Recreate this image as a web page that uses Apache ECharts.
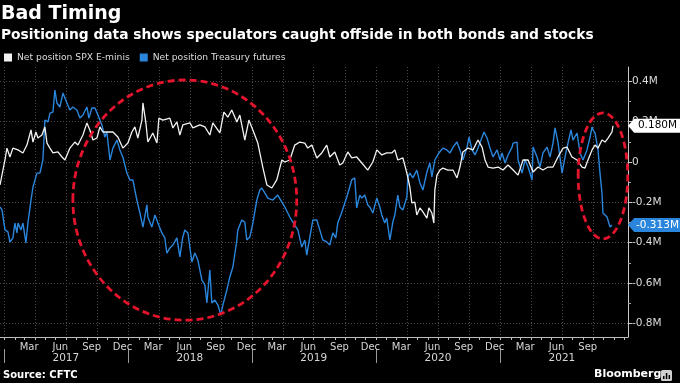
<!DOCTYPE html>
<html>
<head>
<meta charset="utf-8">
<script src="https://cdn.jsdelivr.net/npm/echarts@6/dist/echarts.min.js"></script>
<style>
html,body{margin:0;padding:0;background:#000;}
#chart{width:680px;height:383px;}
</style>
</head>
<body>
<div id="chart"></div>
<script>
// ---- data (dates as decimal years, values in millions of contracts) ----
const spxDates = [2016.965,2017.005,2017.021,2017.045,2017.069,2017.110,2017.150,2017.182,2017.215,2017.231,2017.255,2017.271,2017.303,2017.327,2017.344,2017.368,2017.392,2017.432,2017.465,2017.489,2017.529,2017.569,2017.594,2017.634,2017.666,2017.690,2017.715,2017.747,2017.771,2017.795,2017.835,2017.876,2017.916,2017.956,2017.997,2018.029,2018.053,2018.077,2018.110,2018.118,2018.142,2018.158,2018.198,2018.231,2018.247,2018.279,2018.335,2018.360,2018.392,2018.416,2018.440,2018.497,2018.521,2018.577,2018.618,2018.658,2018.682,2018.739,2018.771,2018.803,2018.835,2018.876,2018.900,2018.940,2018.973,2019.005,2019.045,2019.085,2019.118,2019.158,2019.198,2019.239,2019.263,2019.303,2019.343,2019.384,2019.424,2019.448,2019.481,2019.521,2019.561,2019.601,2019.626,2019.666,2019.706,2019.731,2019.771,2019.803,2019.843,2019.884,2019.932,2019.973,2020.005,2020.045,2020.085,2020.126,2020.150,2020.174,2020.215,2020.247,2020.271,2020.287,2020.311,2020.327,2020.352,2020.376,2020.408,2020.424,2020.448,2020.464,2020.472,2020.489,2020.513,2020.537,2020.577,2020.618,2020.650,2020.674,2020.698,2020.739,2020.779,2020.819,2020.852,2020.876,2020.900,2020.940,2020.981,2021.021,2021.061,2021.102,2021.142,2021.182,2021.223,2021.263,2021.303,2021.343,2021.384,2021.424,2021.464,2021.505,2021.537,2021.577,2021.618,2021.658,2021.682,2021.706,2021.739,2021.763,2021.787,2021.819,2021.844,2021.868,2021.900,2021.908];
const spxValues = [-0.114,0.010,0.069,0.025,0.069,0.060,0.045,0.084,0.159,0.099,0.149,0.119,0.134,0.174,0.094,0.069,0.045,0.050,0.025,0.010,0.069,0.099,0.084,0.134,0.194,0.159,0.109,0.119,0.174,0.149,0.149,0.149,0.124,0.069,0.094,0.149,0.174,0.119,0.208,0.293,0.194,0.099,0.144,0.094,0.218,0.208,0.218,0.169,0.199,0.134,0.184,0.194,0.169,0.184,0.174,0.134,0.194,0.144,0.248,0.223,0.258,0.199,0.233,0.109,0.208,0.159,0.094,-0.025,-0.114,-0.129,-0.089,0.010,0.000,0.010,0.084,0.099,0.094,0.069,0.084,0.020,0.045,0.084,0.025,0.050,-0.015,-0.005,0.050,0.020,0.025,-0.005,-0.040,0.000,0.060,0.035,0.045,0.045,0.060,0.010,0.020,-0.055,-0.124,-0.203,-0.199,-0.263,-0.228,-0.248,-0.278,-0.228,-0.253,-0.303,-0.139,-0.065,-0.040,-0.030,-0.040,-0.040,-0.079,-0.025,0.050,0.069,0.060,0.109,0.074,0.010,-0.025,-0.030,-0.025,-0.040,-0.015,-0.040,-0.065,0.010,0.010,-0.050,-0.025,-0.040,-0.025,-0.025,0.025,0.069,0.074,0.025,0.010,-0.025,-0.030,0.010,0.060,0.084,0.069,0.109,0.099,0.119,0.149,0.180];

const tsyDates = [2016.965,2016.981,2017.005,2017.029,2017.045,2017.069,2017.085,2017.102,2017.110,2017.134,2017.150,2017.174,2017.190,2017.215,2017.231,2017.263,2017.287,2017.311,2017.327,2017.352,2017.368,2017.392,2017.408,2017.424,2017.448,2017.473,2017.505,2017.529,2017.553,2017.585,2017.610,2017.634,2017.666,2017.682,2017.706,2017.731,2017.755,2017.787,2017.811,2017.827,2017.852,2017.876,2017.908,2017.932,2017.956,2017.989,2018.013,2018.037,2018.053,2018.069,2018.094,2018.118,2018.150,2018.158,2018.190,2018.215,2018.239,2018.271,2018.295,2018.311,2018.335,2018.360,2018.392,2018.416,2018.440,2018.456,2018.481,2018.513,2018.537,2018.561,2018.594,2018.618,2018.634,2018.658,2018.674,2018.698,2018.723,2018.747,2018.763,2018.795,2018.819,2018.844,2018.876,2018.884,2018.916,2018.940,2018.956,2018.981,2019.005,2019.037,2019.061,2019.077,2019.102,2019.126,2019.166,2019.206,2019.239,2019.263,2019.303,2019.327,2019.368,2019.400,2019.424,2019.440,2019.465,2019.489,2019.521,2019.545,2019.569,2019.602,2019.626,2019.650,2019.674,2019.690,2019.723,2019.763,2019.803,2019.827,2019.843,2019.868,2019.884,2019.908,2019.932,2019.948,2019.973,2020.005,2020.029,2020.045,2020.069,2020.085,2020.110,2020.134,2020.150,2020.174,2020.190,2020.215,2020.247,2020.255,2020.271,2020.295,2020.327,2020.352,2020.376,2020.408,2020.432,2020.448,2020.472,2020.505,2020.537,2020.569,2020.594,2020.618,2020.650,2020.674,2020.698,2020.731,2020.747,2020.771,2020.795,2020.819,2020.835,2020.868,2020.892,2020.916,2020.940,2020.973,2020.997,2021.013,2021.037,2021.061,2021.094,2021.102,2021.134,2021.142,2021.174,2021.198,2021.223,2021.255,2021.263,2021.295,2021.319,2021.343,2021.376,2021.400,2021.424,2021.440,2021.464,2021.497,2021.521,2021.545,2021.569,2021.585,2021.618,2021.642,2021.666,2021.698,2021.723,2021.739,2021.747,2021.763,2021.787,2021.803,2021.819,2021.827,2021.860,2021.884,2021.900];
const tsyValues = [-0.223,-0.238,-0.337,-0.347,-0.397,-0.377,-0.303,-0.352,-0.303,-0.337,-0.303,-0.402,-0.303,-0.189,-0.124,-0.055,-0.055,0.010,0.208,0.199,0.243,0.248,0.357,0.293,0.273,0.342,0.293,0.258,0.273,0.258,0.218,0.233,0.273,0.218,0.268,0.268,0.233,0.184,0.124,0.149,0.010,0.069,0.109,0.060,0.025,-0.055,-0.089,-0.089,-0.139,-0.189,-0.253,-0.323,-0.213,-0.273,-0.323,-0.263,-0.303,-0.352,-0.377,-0.452,-0.427,-0.412,-0.377,-0.471,-0.372,-0.337,-0.352,-0.496,-0.452,-0.486,-0.586,-0.610,-0.700,-0.536,-0.700,-0.685,-0.710,-0.759,-0.710,-0.635,-0.571,-0.521,-0.387,-0.337,-0.288,-0.298,-0.387,-0.372,-0.303,-0.189,-0.139,-0.129,-0.154,-0.179,-0.189,-0.164,-0.199,-0.223,-0.273,-0.298,-0.337,-0.422,-0.387,-0.462,-0.372,-0.288,-0.288,-0.337,-0.387,-0.397,-0.412,-0.352,-0.377,-0.303,-0.248,-0.174,-0.089,-0.079,-0.228,-0.164,-0.179,-0.164,-0.213,-0.223,-0.253,-0.179,-0.223,-0.263,-0.303,-0.278,-0.387,-0.298,-0.263,-0.164,-0.223,-0.238,-0.174,-0.074,-0.055,-0.079,-0.040,-0.104,-0.139,-0.050,-0.005,-0.074,0.010,0.045,0.069,0.060,0.045,0.074,0.099,0.060,0.010,0.074,0.124,0.060,0.035,0.069,0.074,0.149,0.119,0.069,0.025,0.060,0.010,0.045,-0.005,0.035,0.074,0.094,0.099,0.010,-0.055,0.010,-0.025,-0.089,0.074,0.025,-0.025,0.045,0.074,0.025,0.094,0.169,0.099,-0.055,0.025,0.094,0.159,0.109,0.144,0.045,0.010,0.060,0.124,0.174,0.159,0.144,0.060,-0.055,-0.154,-0.253,-0.273,-0.323,-0.313];

const seriesNames = ['Net position SPX E-minis', 'Net position Treasury futures'];
const monthNames = ['Jan','Feb','Mar','Apr','May','Jun','Jul','Aug','Sep','Oct','Nov','Dec'];
const labelMonths = [2, 5, 8, 11];          // Mar, Jun, Sep, Dec
const quarterMonths = [0, 3, 6, 9];          // grid lines
const years = [2017, 2018, 2019, 2020, 2021];
const yTicks = [-0.8, -0.6, -0.4, -0.2, 0, 0.2, 0.4];
const yMinorTicks = [-0.7, -0.5, -0.3, -0.1, 0.1, 0.3];
const axisRange = { xMin: 2016.965, xMax: 2022.029, yMin: -0.8685, yMax: 0.4715 };

// ---- helpers ----
function yearToTs(y) {
  const yr = Math.floor(y);
  const s = Date.UTC(yr, 0, 1), e = Date.UTC(yr + 1, 0, 1);
  return s + (y - yr) * (e - s);
}
const zip = (d, v) => d.map((x, i) => [yearToTs(x), v[i]]);
const spxData = zip(spxDates, spxValues);
const tsyData = zip(tsyDates, tsyValues);
const xMin = yearToTs(axisRange.xMin), xMax = yearToTs(axisRange.xMax);
const lastTs = Math.max(spxData[spxData.length - 1][0], tsyData[tsyData.length - 1][0]);

const monthLabelTs = [], monthTickTs = [], quarterTs = [], yearLabelTs = [], yearTickTs = [];
years.forEach(y => {
  labelMonths.forEach(m => { const t = Date.UTC(y, m, 15); if (t <= lastTs) monthLabelTs.push(t); });
  for (let m = 0; m < 12; m++) monthTickTs.push(Date.UTC(y, m, 1));
  quarterMonths.forEach(m => quarterTs.push(Date.UTC(y, m, 1)));
  yearLabelTs.push(Date.UTC(y, 6, 1));
  yearTickTs.push(Date.UTC(y, 0, 1));
});
monthTickTs.push(Date.UTC(years[years.length - 1] + 1, 0, 1));

const FONT = 'DejaVu Sans';
const WHITE = '#f2f2f2', BLUE = '#2a86dc', RED = '#e5142d';
const gridColor = '#4a4a4a';

const chart = echarts.init(document.getElementById('chart'), null, { renderer: 'canvas' });

function tag(color, textColor, value) {
  return {
    silent: true,
    z: 20,
    symbol: 'path://M0,7L7,0L60,0L60,14L7,14Z',
    symbolSize: [53, 14],
    symbolOffset: ['50%', 0],
    itemStyle: { color: color },
    label: {
      show: true, position: 'inside', offset: [3, 0],
      color: textColor, fontFamily: FONT, fontSize: 10.5,
      formatter: () => value.toFixed(3) + 'M'
    },
    data: [{ coord: [xMax, value] }]
  };
}

const xBase = { type: 'value', min: xMin, max: xMax, position: 'bottom', scale: true };

const option = {
  backgroundColor: '#000',
  animation: false,
  title: [
    { text: 'Bad Timing', left: 1, top: 5, padding: 0,
      textStyle: { color: '#fff', fontFamily: FONT, fontWeight: 'bold', fontSize: 19 } },
    { text: 'Positioning data shows speculators caught offside in both bonds and stocks', left: 1, top: 28, padding: 0,
      textStyle: { color: '#fff', fontFamily: FONT, fontWeight: 'bold', fontSize: 13.8 } }
  ],
  legend: {
    left: 4, top: 53, padding: 0, itemGap: 10, itemWidth: 8, itemHeight: 8, icon: 'rect',
    selectedMode: false,
    textStyle: { color: '#dcdcdc', fontFamily: FONT, fontSize: 9.2 },
    data: seriesNames
  },
  grid: { left: 0, right: 52, top: 67, bottom: 46, containLabel: false },
  xAxis: [
    Object.assign({}, xBase, { // month ticks + month labels
      axisLine: { show: true, onZero: false, lineStyle: { color: '#bdbdbd', width: 1 } },
      axisTick: { show: true, customValues: monthTickTs, length: 3, inside: false, lineStyle: { color: '#bdbdbd' } },
      axisLabel: { show: true, customValues: monthLabelTs, margin: 5, color: '#d6d6d6', fontFamily: FONT, fontSize: 10,
        formatter: v => monthNames[new Date(v).getUTCMonth()], hideOverlap: false },
      splitLine: { show: false }
    }),
    Object.assign({}, xBase, { // quarter grid lines
      axisLine: { show: false, onZero: false }, axisLabel: { show: false },
      axisTick: { show: false, customValues: quarterTs },
      splitLine: { show: true, lineStyle: { color: gridColor, type: [1, 2], width: 1 } }
    }),
    Object.assign({}, xBase, { // year labels + separators
      offset: 12,
      axisLine: { show: false, onZero: false },
      axisTick: { show: true, customValues: yearTickTs, length: 14, lineStyle: { color: '#9a9a9a' } },
      axisLabel: { show: true, customValues: yearLabelTs, margin: 4, color: '#d6d6d6', fontFamily: FONT, fontSize: 10.5,
        formatter: v => String(new Date(v).getUTCFullYear()), hideOverlap: false },
      splitLine: { show: false }
    })
  ],
  yAxis: [
    {
      type: 'value', position: 'right', min: axisRange.yMin, max: axisRange.yMax,
      axisLine: { show: true, onZero: false, lineStyle: { color: '#c8c8c8', width: 1 } },
      axisTick: { show: true, customValues: yTicks, length: 4, lineStyle: { color: '#c8c8c8' } },
      axisLabel: { show: true, customValues: yTicks, margin: 4, color: '#dcdcdc', fontFamily: FONT, fontSize: 10.5,
        formatter: v => (Math.abs(v) < 1e-9 ? '0' : v.toFixed(1) + 'M') },
      splitLine: { show: true, lineStyle: { color: gridColor, type: [1, 2], width: 1 } }
    },
    {
      type: 'value', position: 'right', min: axisRange.yMin, max: axisRange.yMax,
      axisLine: { show: false, onZero: false }, axisLabel: { show: false }, splitLine: { show: false },
      axisTick: { show: true, customValues: yMinorTicks, length: 3, lineStyle: { color: '#a8a8a8' } }
    }
  ],
  series: [
    {
      name: seriesNames[0], type: 'line', xAxisIndex: 0, yAxisIndex: 0, data: spxData,
      showSymbol: false, symbol: 'none', color: WHITE, z: 4,
      lineStyle: { color: WHITE, width: 1.3 },
      markPoint: tag('#ffffff', '#000000', spxValues[spxValues.length - 1])
    },
    {
      name: seriesNames[1], type: 'line', xAxisIndex: 0, yAxisIndex: 0, data: tsyData,
      showSymbol: false, symbol: 'none', color: BLUE, z: 3,
      lineStyle: { color: BLUE, width: 1.4 },
      markPoint: tag(BLUE, '#ffffff', tsyValues[tsyValues.length - 1])
    }
  ]
};
chart.setOption(option);

// ---- annotations: dashed ellipses anchored in data space, footer text ----
const ellipses = [
  { center: [2018.456, -0.189], rx: 0.903, ry: 0.596 },
  { center: [2021.827, -0.069], rx: 0.200, ry: 0.313 }
];
const toPx = (yr, v) => chart.convertToPixel({ seriesIndex: 0 }, [yearToTs(yr), v]);
const graphics = ellipses.map(e => {
  const c = toPx(e.center[0], e.center[1]);
  const r = toPx(e.center[0] + e.rx, e.center[1] + e.ry);
  return {
    type: 'ellipse', z: 10, silent: true,
    shape: { cx: c[0], cy: c[1], rx: Math.abs(r[0] - c[0]), ry: Math.abs(c[1] - r[1]) },
    style: { fill: null, stroke: RED, lineWidth: 2.8, lineDash: [7, 4] }
  };
});
graphics.push(
  { type: 'text', left: 3, top: 370, z: 30,
    style: { text: 'Source: CFTC', fill: '#fff', font: 'bold 10px "DejaVu Sans"' } },
  { type: 'text', left: 594, top: 369, z: 30,
    style: { text: 'Bloomberg', fill: '#fff', font: 'bold 11px "DejaVu Sans"' } },
  { type: 'group', left: 661, top: 370, z: 30, children: [
    { type: 'rect', shape: { x: 0, y: 0, width: 11, height: 11, r: 1.5 }, style: { fill: '#d0d0d0' } },
    { type: 'rect', shape: { x: 2, y: 6, width: 1.5, height: 3 }, style: { fill: '#000' } },
    { type: 'rect', shape: { x: 4.8, y: 3, width: 1.5, height: 6 }, style: { fill: '#000' } },
    { type: 'rect', shape: { x: 7.6, y: 5, width: 1.5, height: 4 }, style: { fill: '#000' } }
  ] }
);
chart.setOption({ graphic: graphics });
</script>
</body>
</html>
